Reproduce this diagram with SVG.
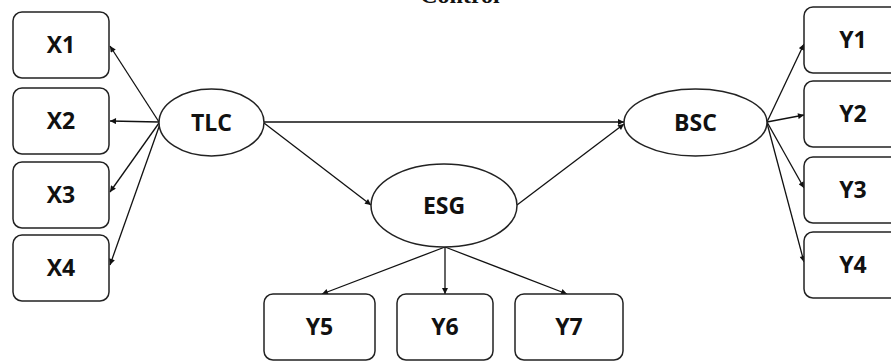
<svg xmlns="http://www.w3.org/2000/svg" width="891" height="361" viewBox="0 0 891 361">
<defs>
<marker id="ah" viewBox="0 0 10 10" refX="10" refY="5" markerWidth="7" markerHeight="6" markerUnits="userSpaceOnUse" orient="auto">
<path d="M0,0 L10,5 L0,10 z" fill="#111"/>
</marker>
</defs>
<style>
.box{fill:#fff;stroke:#222;stroke-width:1.5}
.ell{fill:#fff;stroke:#222;stroke-width:1.5}
.lbl{font-family:"Open Sans","Liberation Sans",sans-serif;font-weight:700;font-size:23px;fill:#111;text-anchor:middle}
.con line{stroke:#111;stroke-width:1.3;marker-end:url(#ah)}
</style>
<rect width="891" height="361" fill="#fff"/>
<text x="460" y="2.5" font-family="'Liberation Serif',serif" font-weight="700" font-size="24" text-anchor="middle" fill="#111">Control</text>
<g id="connectors" class="con">
<line x1="159" y1="122" x2="110" y2="46"/>
<line x1="159" y1="122" x2="110" y2="121"/>
<line x1="159" y1="123" x2="110" y2="192"/>
<line x1="160" y1="124" x2="110" y2="265"/>
<line x1="264" y1="122" x2="624" y2="122"/>
<line x1="264" y1="123" x2="371" y2="205"/>
<line x1="517" y1="205" x2="624" y2="124"/>
<line x1="767" y1="122" x2="804" y2="44"/>
<line x1="767" y1="122" x2="804" y2="115"/>
<line x1="767" y1="122" x2="804" y2="188"/>
<line x1="767" y1="123" x2="804" y2="262"/>
<line x1="445" y1="247" x2="322" y2="294"/>
<line x1="445" y1="247" x2="445" y2="294"/>
<line x1="445" y1="247" x2="567" y2="294"/>
</g>
<g id="X1"><rect class="box" x="13" y="12" width="96" height="66" rx="9"/><text class="lbl" x="61" y="53">X1</text></g>
<g id="X2"><rect class="box" x="13" y="88" width="96" height="66" rx="9"/><text class="lbl" x="61" y="129">X2</text></g>
<g id="X3"><rect class="box" x="13" y="162" width="96" height="66" rx="9"/><text class="lbl" x="61" y="203">X3</text></g>
<g id="X4"><rect class="box" x="13" y="235" width="96" height="66" rx="9"/><text class="lbl" x="61" y="276">X4</text></g>
<g id="TLC"><ellipse class="ell" cx="211.5" cy="122.5" rx="52.5" ry="33.5"/><text class="lbl" x="211.5" y="131">TLC</text></g>
<g id="BSC"><ellipse class="ell" cx="695.5" cy="122.5" rx="71.5" ry="33.5"/><text class="lbl" x="695.5" y="131">BSC</text></g>
<g id="ESG"><ellipse class="ell" cx="444" cy="205.5" rx="73" ry="41.5"/><text class="lbl" x="444" y="214">ESG</text></g>
<g id="Y1"><rect class="box" x="804" y="7" width="100" height="66" rx="9"/><text class="lbl" x="853" y="48">Y1</text></g>
<g id="Y2"><rect class="box" x="804" y="81" width="100" height="66" rx="9"/><text class="lbl" x="853" y="122">Y2</text></g>
<g id="Y3"><rect class="box" x="804" y="157" width="100" height="66" rx="9"/><text class="lbl" x="853" y="198">Y3</text></g>
<g id="Y4"><rect class="box" x="804" y="232" width="100" height="66" rx="9"/><text class="lbl" x="853" y="273">Y4</text></g>
<g id="Y5"><rect class="box" x="264" y="294" width="111" height="66" rx="9"/><text class="lbl" x="319.5" y="335">Y5</text></g>
<g id="Y6"><rect class="box" x="397" y="294" width="96" height="66" rx="9"/><text class="lbl" x="445" y="335">Y6</text></g>
<g id="Y7"><rect class="box" x="515" y="294" width="108" height="66" rx="9"/><text class="lbl" x="569" y="335">Y7</text></g>
</svg>
